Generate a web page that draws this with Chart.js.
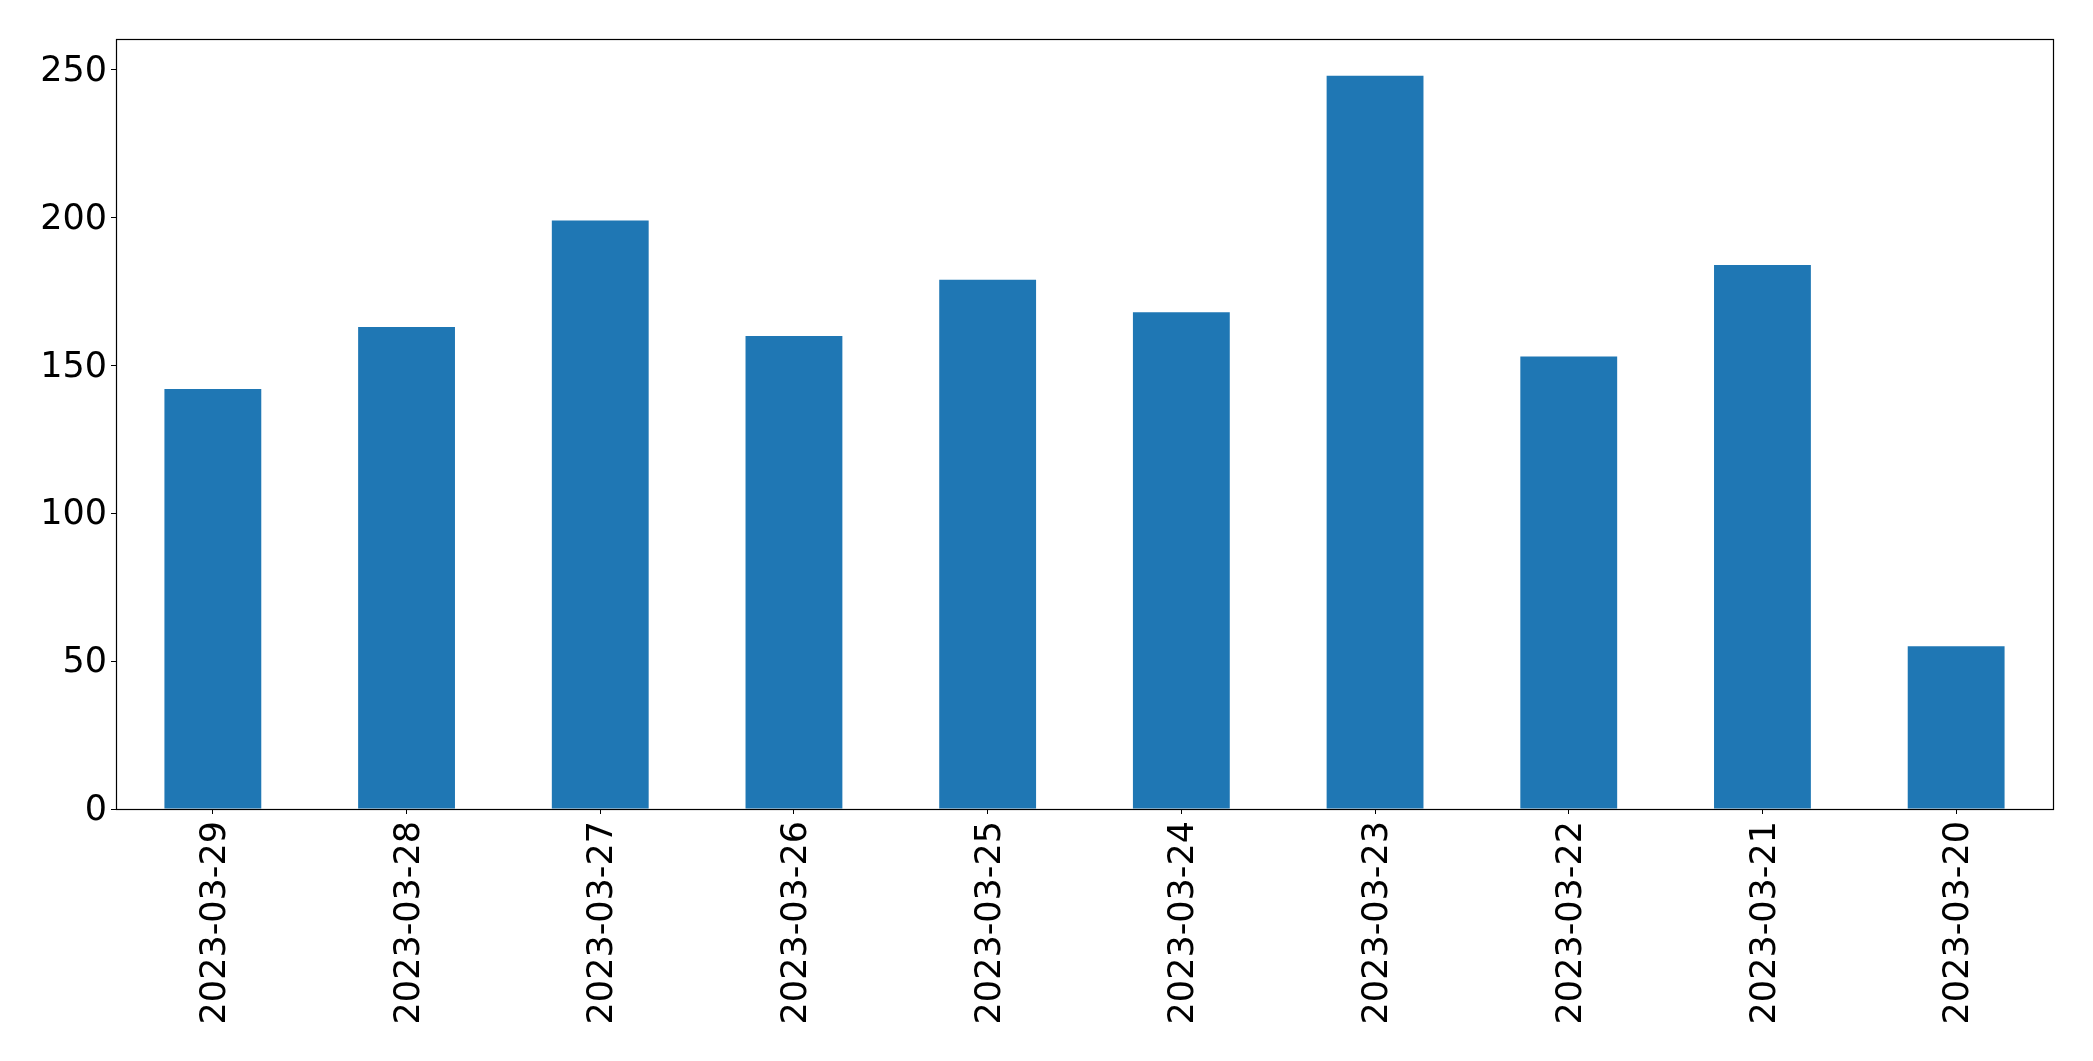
<!DOCTYPE html>
<html>
<head>
<meta charset="utf-8">
<script src="https://cdn.jsdelivr.net/npm/chart.js@4/dist/chart.umd.min.js"></script>
<style>
	body { margin: 0; background: #fff; }
	canvas { display: block; }
</style>
</head>
<body>
<canvas id="myChart" width="2093" height="1061"></canvas>
<script>
let dates = [
	"2023-03-29", "2023-03-28", "2023-03-27", "2023-03-26", "2023-03-25",
	"2023-03-24", "2023-03-23", "2023-03-22", "2023-03-21", "2023-03-20",
];
let counts = [142, 163, 199, 160, 179, 168, 248, 153, 184, 55];
let yTicks = [0, 50, 100, 150, 200, 250];

let tickFont = { family: "DejaVu Sans", size: 35 };

// draws the black box round the plot, like matplotlib's spines
let frame = {
	id: "frame",
	afterDatasetsDraw(chart) {
		let a = chart.chartArea;
		let c = chart.ctx;
		c.save();
		c.strokeStyle = "#000";
		c.lineWidth = 1.2;
		c.strokeRect(Math.round(a.left) + 0.5, Math.round(a.top) + 0.5,
			Math.round(a.right - a.left), Math.round(a.bottom - a.top));
		c.restore();
	},
};

var ctx = document.getElementById("myChart").getContext("2d");
var chart = new Chart(ctx, {
	type: "bar",
	data: {
		labels: dates,
		datasets: [
			{
				backgroundColor: "#1f77b4",
				borderWidth: 0,
				data: counts,
				categoryPercentage: 1,
				barPercentage: 0.5,
			},
		],
	},
	options: {
		responsive: false,
		animation: false,
		layout: { padding: { left: 0, top: 39, right: 40, bottom: 0 } },
		plugins: { legend: { display: false }, tooltip: { enabled: false } },
		scales: {
			x: {
				grid: { offset: false, drawOnChartArea: false, drawTicks: true, tickLength: 5, color: "#000" },
				border: { display: false },
				ticks: {
					font: tickFont,
					color: "#000",
					minRotation: 90,
					maxRotation: 90,
					padding: 7,
					labelOffset: 3,
					autoSkip: false,
				},
				afterFit(scale) {
					scale.height = 252;
				},
			},
			y: {
				min: 0,
				max: Math.max(...counts) * 1.05,
				grid: { drawOnChartArea: false, drawTicks: true, tickLength: 5, color: "#000" },
				border: { display: false },
				ticks: {
					font: tickFont,
					color: "#000",
					padding: 4,
					labelOffset: 2,
					includeBounds: false,
					stepSize: 50,
				},
				afterBuildTicks(scale) {
					scale.ticks = yTicks.map((v) => ({ value: v }));
				},
				afterFit(scale) {
					scale.width = 116;
				},
			},
		},
	},
	plugins: [frame],
});
</script>
</body>
</html>
